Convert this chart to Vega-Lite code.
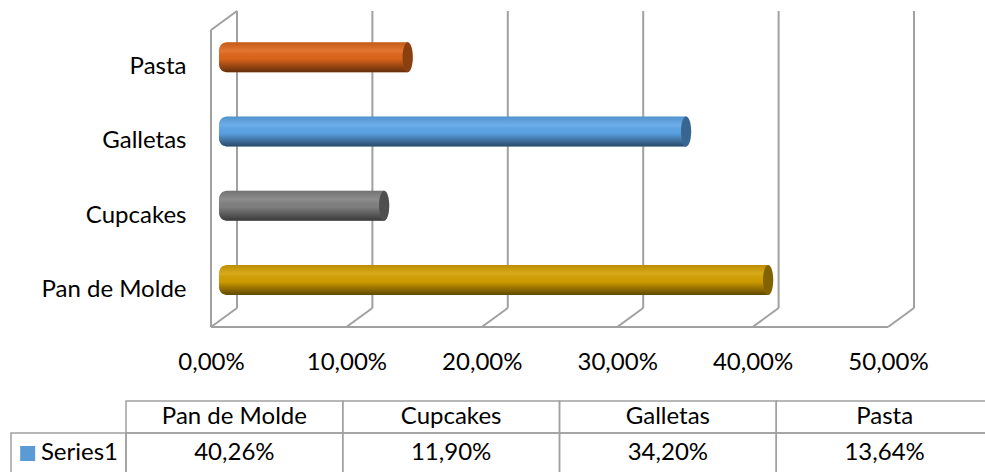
{
  "$schema": "https://vega.github.io/schema/vega-lite/v6.json",
  "width": 677,
  "height": 297,
  "autosize": {"type": "none"},
  "padding": {"left": 211, "top": 30, "right": 97, "bottom": 145},
  "background": "white",
  "config": {
    "view": {"stroke": null},
    "font": "Lato",
    "locale": {"number": {"decimal": ",", "thousands": ".", "grouping": [3], "currency": ["", " €"]}},
    "axis": {"labelFont": "Lato", "labelFontSize": 24, "labelColor": "#000000", "domain": false, "ticks": false, "grid": false, "title": null, "labelFlush": false, "labelOverlap": false},
    "text": {"font": "Lato", "fontSize": 24, "color": "#000000"}
  },
  "datasets": {
    "ventas": [
      {"Categoria": "Pan de Molde", "Valor": 0.4026},
      {"Categoria": "Cupcakes", "Valor": 0.119},
      {"Categoria": "Galletas", "Valor": 0.342},
      {"Categoria": "Pasta", "Valor": 0.1364}
    ],
    "marcas": [{"t": 0}, {"t": 0.1}, {"t": 0.2}, {"t": 0.3}, {"t": 0.4}, {"t": 0.5}]
  },
  "resolve": {"scale": {"x": "independent", "y": "independent"}, "axis": {"x": "independent", "y": "independent"}},
  "layer": [
    {
      "layer": [
        {
          "data": {"name": "marcas"},
          "mark": {"type": "rule", "color": "#A0A0A0", "strokeWidth": 2, "xOffset": 26, "x2Offset": 26, "yOffset": -19, "y2Offset": -19},
          "encoding": {
            "x": {"field": "t", "type": "quantitative", "scale": {"domain": [0, 0.5], "nice": false, "zero": false},
                  "axis": {"orient": "bottom", "values": [0, 0.1, 0.2, 0.3, 0.4, 0.5], "format": ".2%", "labelPadding": 23}},
            "y": {"value": 0},
            "y2": {"value": "height"}
          }
        },
        {
          "data": {"name": "marcas"},
          "mark": {"type": "rule", "color": "#A0A0A0", "strokeWidth": 2, "x2Offset": 26, "y2Offset": -19},
          "encoding": {
            "x": {"field": "t", "type": "quantitative"},
            "x2": {"field": "t"},
            "y": {"value": "height"},
            "y2": {"value": "height"}
          }
        },
        {
          "data": {"name": "marcas"},
          "transform": [{"filter": "datum.t == 0"}],
          "mark": {"type": "rule", "color": "#A0A0A0", "strokeWidth": 2},
          "encoding": {
            "x": {"field": "t", "type": "quantitative"},
            "x2": {"datum": 0.5},
            "y": {"value": "height"},
            "y2": {"value": "height"}
          }
        },
        {
          "data": {"name": "marcas"},
          "transform": [{"filter": "datum.t == 0"}],
          "mark": {"type": "rule", "color": "#A0A0A0", "strokeWidth": 2},
          "encoding": {
            "x": {"field": "t", "type": "quantitative"},
            "y": {"value": 0},
            "y2": {"value": "height"}
          }
        },
        {
          "data": {"name": "marcas"},
          "transform": [{"filter": "datum.t == 0"}],
          "mark": {"type": "rule", "color": "#A0A0A0", "strokeWidth": 2, "x2Offset": 26, "y2Offset": -19},
          "encoding": {
            "x": {"field": "t", "type": "quantitative"},
            "x2": {"field": "t"},
            "y": {"value": 0},
            "y2": {"value": 0}
          }
        },
        {
          "data": {"name": "ventas"},
          "mark": {"type": "bar", "height": 30, "cornerRadiusTopLeft": 8, "cornerRadiusBottomLeft": 8, "xOffset": 12, "x2Offset": 8, "yOffset": -10},
          "encoding": {
            "y": {"field": "Categoria", "type": "nominal",
                  "scale": {"domain": ["Pasta", "Galletas", "Cupcakes", "Pan de Molde"], "paddingInner": 0, "paddingOuter": 0},
                  "axis": {"orient": "left", "labelPadding": 25}},
            "x": {"field": "Valor", "type": "quantitative"},
            "x2": {"datum": 0},
            "color": {"field": "Categoria", "type": "nominal",
                      "scale": {"domain": ["Pan de Molde", "Cupcakes", "Galletas", "Pasta"], "range": ["#D4A000", "#808080", "#5CA5E8", "#DE661A"]},
                      "legend": null}
          }
        },
        {
          "data": {"name": "ventas"},
          "mark": {"type": "bar", "height": 30, "cornerRadiusTopLeft": 8, "cornerRadiusBottomLeft": 8, "xOffset": 12, "x2Offset": 8, "yOffset": -10,
                   "fill": {"gradient": "linear", "x1": 0, "y1": 0, "x2": 0, "y2": 1,
                            "stops": [{"offset": 0, "color": "rgba(0,0,0,0.12)"},
                                      {"offset": 0.3, "color": "rgba(255,255,255,0.10)"},
                                      {"offset": 0.55, "color": "rgba(0,0,0,0.02)"},
                                      {"offset": 1, "color": "rgba(0,0,0,0.55)"}]}},
          "encoding": {
            "y": {"field": "Categoria", "type": "nominal"},
            "x": {"field": "Valor", "type": "quantitative"},
            "x2": {"datum": 0}
          }
        },
        {
          "data": {"name": "ventas"},
          "mark": {"type": "point", "shape": "M0,-1A0.34,1 0 1,1 0,1A0.34,1 0 1,1 0,-1Z", "size": 900, "filled": true, "opacity": 1, "xOffset": 12, "yOffset": -10},
          "encoding": {
            "y": {"field": "Categoria", "type": "nominal"},
            "x": {"field": "Valor", "type": "quantitative"},
            "color": {"field": "Categoria", "type": "nominal", "legend": null}
          }
        },
        {
          "data": {"name": "ventas"},
          "mark": {"type": "point", "shape": "M0,-1A0.34,1 0 1,1 0,1A0.34,1 0 1,1 0,-1Z", "size": 900, "filled": true, "color": "#000000", "opacity": 0.38, "xOffset": 12, "yOffset": -10},
          "encoding": {
            "y": {"field": "Categoria", "type": "nominal"},
            "x": {"field": "Valor", "type": "quantitative"}
          }
        }
      ]
    },
    {
      "resolve": {"scale": {"x": "independent"}},
      "layer": [
        {
          "data": {"name": "ventas"},
          "layer": [
            {
              "mark": {"type": "rect", "fill": "white", "fillOpacity": 0, "stroke": "#A0A0A0", "strokeWidth": 1.5},
              "encoding": {
                "x": {"field": "Categoria", "type": "nominal",
                      "scale": {"domain": ["Pan de Molde", "Cupcakes", "Galletas", "Pasta"], "range": [-85, 782], "paddingInner": 0, "paddingOuter": 0},
                      "axis": null},
                "y": {"datum": 0, "type": "quantitative", "scale": {"domain": [0, 2], "range": [371, 435], "nice": false, "zero": false}, "axis": null},
                "y2": {"datum": 1}
              }
            },
            {
              "mark": {"type": "rect", "fill": "white", "fillOpacity": 0, "stroke": "#A0A0A0", "strokeWidth": 1.5},
              "encoding": {
                "x": {"field": "Categoria", "type": "nominal"},
                "y": {"datum": 1, "type": "quantitative"},
                "y2": {"datum": 2.4}
              }
            },
            {
              "mark": {"type": "text", "baseline": "middle", "align": "center"},
              "encoding": {
                "x": {"field": "Categoria", "type": "nominal"},
                "y": {"datum": 0.5, "type": "quantitative"},
                "text": {"field": "Categoria"}
              }
            },
            {
              "mark": {"type": "text", "baseline": "middle", "align": "center"},
              "encoding": {
                "x": {"field": "Categoria", "type": "nominal"},
                "y": {"datum": 1.64, "type": "quantitative"},
                "text": {"field": "Valor", "type": "quantitative", "format": ".2%"}
              }
            }
          ]
        },
        {
          "data": {"values": [{"Serie": "Series1"}]},
          "layer": [
            {
              "mark": {"type": "rect", "fill": "white", "fillOpacity": 0, "stroke": "#A0A0A0", "strokeWidth": 1.5},
              "encoding": {
                "x": {"datum": 0, "type": "quantitative", "scale": {"domain": [0, 1], "range": [-200, -85], "nice": false, "zero": false}, "axis": null},
                "x2": {"datum": 1},
                "y": {"datum": 1, "type": "quantitative"},
                "y2": {"datum": 2.4}
              }
            },
            {
              "mark": {"type": "point", "shape": "square", "size": 225, "filled": true, "color": "#5B9BD5", "opacity": 1},
              "encoding": {
                "x": {"datum": 0.145, "type": "quantitative"},
                "y": {"datum": 1.64, "type": "quantitative"}
              }
            },
            {
              "mark": {"type": "text", "baseline": "middle", "align": "left"},
              "encoding": {
                "x": {"datum": 0.26, "type": "quantitative"},
                "y": {"datum": 1.64, "type": "quantitative"},
                "text": {"field": "Serie"}
              }
            }
          ]
        }
      ]
    }
  ]
}
